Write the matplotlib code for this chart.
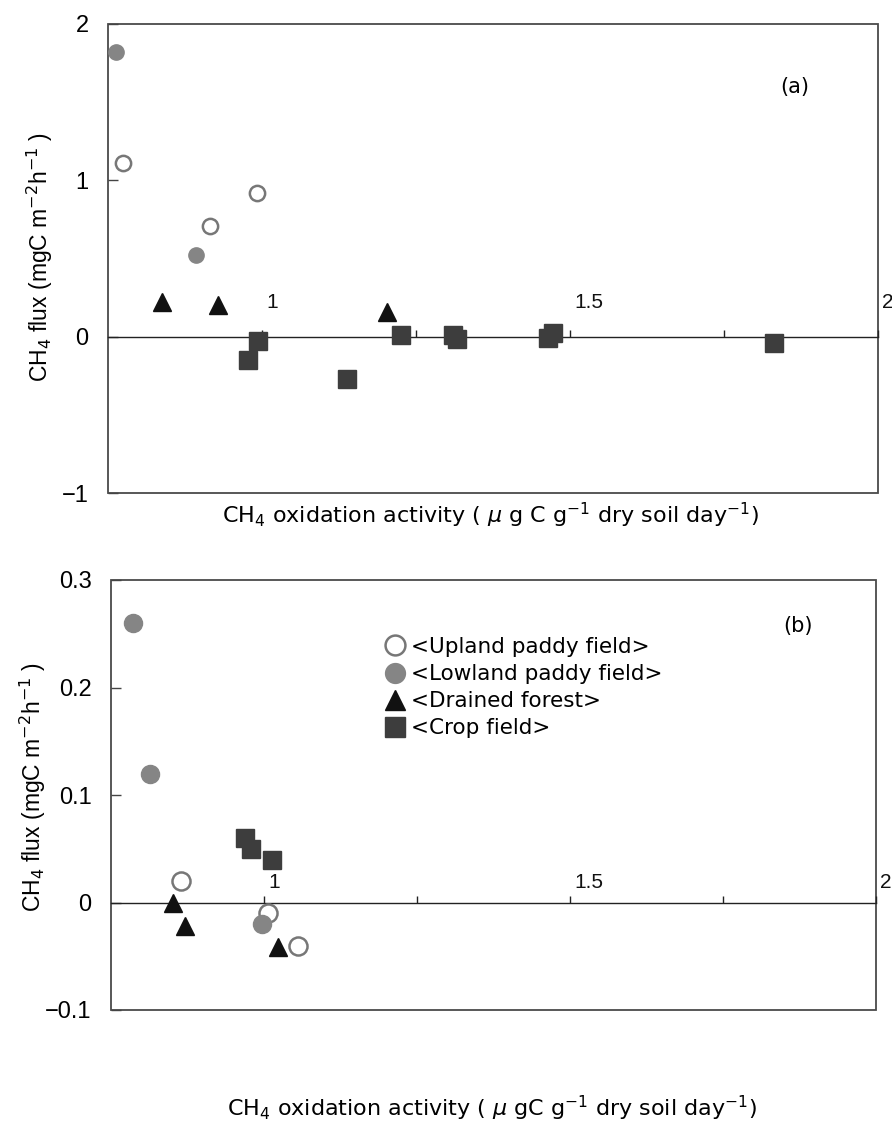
import matplotlib
matplotlib.use("Agg")
import matplotlib.pyplot as plt
import matplotlib.transforms as mtransforms
from matplotlib.patches import Rectangle

plt.rcParams['font.family'] = ['DejaVu Sans', 'Noto Sans CJK JP']
plt.rcParams['mathtext.fontset'] = 'dejavusans'

# ---- data ----
# panel (a)
a_upland_x = [0.774, 0.916, 0.992]
a_upland_y = [1.11, 0.71, 0.92]
a_lowland_x = [0.763, 0.893]
a_lowland_y = [1.82, 0.52]
a_forest_x = [0.838, 0.929, 1.203]
a_forest_y = [0.22, 0.20, 0.16]
a_crop_x = [0.977, 0.994, 1.138, 1.225, 1.310, 1.317, 1.464, 1.472, 1.831]
a_crop_y = [-0.15, -0.03, -0.27, 0.01, 0.01, -0.017, -0.006, 0.026, -0.04]

# panel (b)
b_upland_x = [0.864, 1.006, 1.056]
b_upland_y = [0.02, -0.01, -0.04]
b_lowland_x = [0.786, 0.814, 0.997]
b_lowland_y = [0.26, 0.12, -0.02]
b_forest_x = [0.851, 0.871, 1.023]
b_forest_y = [0.0, -0.022, -0.041]
b_crop_x = [0.969, 0.979, 1.013]
b_crop_y = [0.06, 0.05, 0.04]

x_ticks = [1.0, 1.25, 1.5, 1.75, 2.0]
x_labels = {1.0: '1', 1.5: '1.5', 2.0: '2'}
a_yticks = [-1, 0, 1, 2]
a_ytick_labels = ['\u22121', '0', '1', '2']
b_yticks = [-0.1, 0, 0.1, 0.2, 0.3]
b_ytick_labels = ['\u22120.1', '0', '0.1', '0.2', '0.3']

series_names = ['<Upland paddy field>', '<Lowland paddy field>',
                '<Drained forest>', '<Crop field>']

ylab = r'CH$_4$ flux (mgC m$^{-2}$h$^{-1}$ )'
xlab_a = r'CH$_4$ oxidation activity ( $\mu$ g C g$^{-1}$ dry soil day$^{-1}$)'
xlab_b = r'CH$_4$ oxidation activity ( $\mu$ gC g$^{-1}$ dry soil day$^{-1}$)'

W, H = 892, 1131
fig = plt.figure(figsize=(W / 100, H / 100), dpi=100)


def px_box(l, t, r, b):
    return [l / W, 1 - b / H, (r - l) / W, (b - t) / H]


def draw_panel(ax, up, low, fo, cr, sizes, lab_dy):
    ms_c, ms_t, ms_s = sizes
    ax.plot(up[0], up[1], 'o', ms=ms_c, mfc='white', mec='#777777', mew=1.8,
            ls='none', zorder=3, label=series_names[0])
    ax.plot(low[0], low[1], 'o', ms=ms_c, mfc='#858585', mec='#858585',
            ls='none', zorder=3, label=series_names[1])
    ax.plot(fo[0], fo[1], '^', ms=ms_t, mfc='#111111', mec='#111111',
            ls='none', zorder=4, label=series_names[2])
    ax.plot(cr[0], cr[1], 's', ms=ms_s, mfc='#3d3d3d', mec='#3d3d3d',
            ls='none', zorder=5, label=series_names[3])

    ax.set_xlim(0.75, 2.0)
    for s in ['top', 'left', 'right']:
        ax.spines[s].set_visible(False)
    ax.spines['bottom'].set_position(('data', 0))
    ax.spines['bottom'].set_color('#222222')
    ax.spines['bottom'].set_linewidth(1.0)
    ax.add_patch(Rectangle((0, 0), 1, 1, transform=ax.transAxes, fill=False,
                           ec='#4a4a4a', lw=1.3, zorder=1, clip_on=False))
    ax.set_xticks(x_ticks)
    ax.tick_params(axis='x', direction='in', length=5, width=1,
                   color='#222222', labelbottom=False)
    ax.tick_params(axis='y', direction='in', length=7, width=1,
                   color='#444444', pad=14, labelsize=17)
    off = mtransforms.ScaledTranslation(4 / 100, lab_dy / 100, fig.dpi_scale_trans)
    for xv, txt in x_labels.items():
        ax.text(xv, 0, txt, transform=ax.transData + off, ha='left',
                va='center', fontsize=15, family='Liberation Sans',
                color='#111111')


# ---- panel (a) ----
ax_a = fig.add_axes(px_box(108, 24, 878, 493))
draw_panel(ax_a, (a_upland_x, a_upland_y), (a_lowland_x, a_lowland_y),
           (a_forest_x, a_forest_y), (a_crop_x, a_crop_y), (11, 13, 13), 34)
ax_a.set_ylim(-1, 2)
ax_a.set_yticks(a_yticks)
ax_a.set_yticklabels(a_ytick_labels, family='Liberation Sans')
fig.text(795 / W, 1 - 87 / H, '(a)', ha='center', va='center', fontsize=15)
fig.text(40 / W, 1 - 257 / H, ylab, rotation=90, ha='center', va='center',
         fontsize=16.5, family='Liberation Sans')
fig.text(490 / W, 1 - 515 / H, xlab_a, ha='center', va='center', fontsize=16)

# ---- panel (b) ----
ax_b = fig.add_axes(px_box(111, 580, 876, 1010))
draw_panel(ax_b, (b_upland_x, b_upland_y), (b_lowland_x, b_lowland_y),
           (b_forest_x, b_forest_y), (b_crop_x, b_crop_y), (13, 13, 13), 20)
ax_b.set_ylim(-0.1, 0.3)
ax_b.set_yticks(b_yticks)
ax_b.set_yticklabels(b_ytick_labels, family='Liberation Sans')
fig.text(798 / W, 1 - 626 / H, '(b)', ha='center', va='center', fontsize=15)
fig.text(33 / W, 1 - 787 / H, ylab, rotation=90, ha='center', va='center',
         fontsize=16.5, family='Liberation Sans')
fig.text(492 / W, 1 - 1108 / H, xlab_b, ha='center', va='center', fontsize=16)

ax_b.legend(loc='upper left', bbox_to_anchor=(384 / W, 1 - 637 / H),
            bbox_transform=fig.transFigure, frameon=False, fontsize=15.5,
            handlelength=1.0, handletextpad=0.25, labelspacing=0.33,
            borderpad=0, borderaxespad=0, markerscale=1.1)

fig.savefig('out.png', dpi=100)
